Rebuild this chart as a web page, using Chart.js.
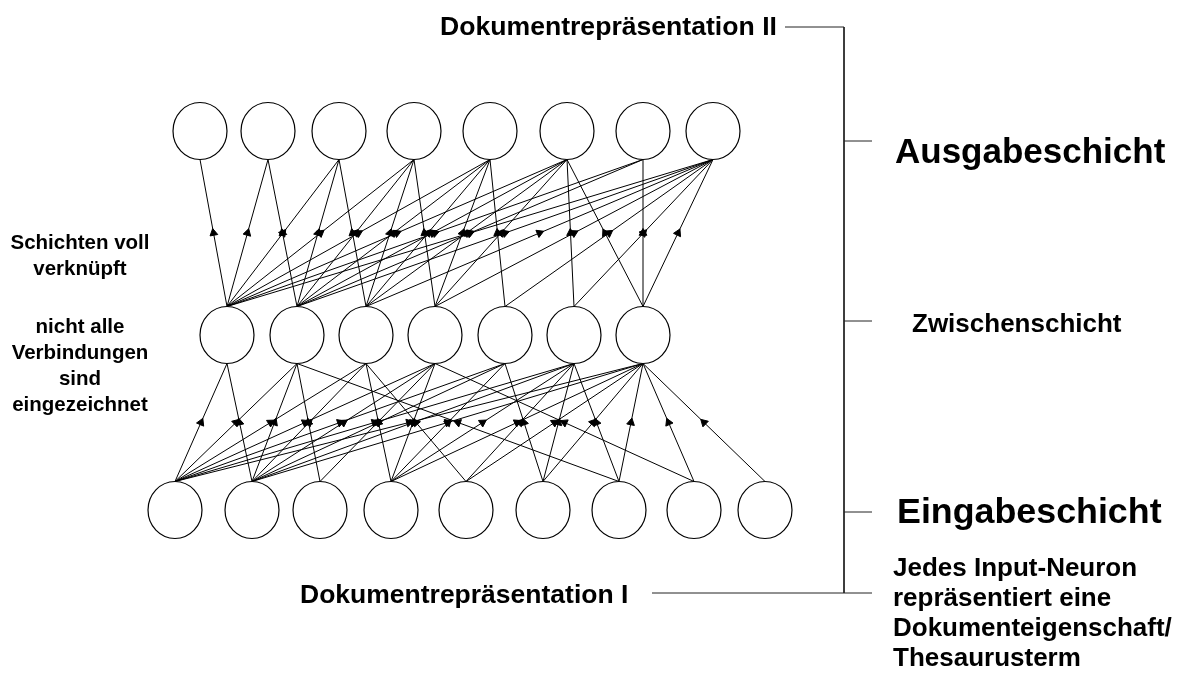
<!DOCTYPE html>
<html>
<head>
<meta charset="utf-8">
<script src="https://cdn.jsdelivr.net/npm/chart.js@4.4.1/dist/chart.umd.min.js"></script>
<style>
  html, body { margin: 0; padding: 0; background: #ffffff; }
  #wrap { width: 1189px; height: 682px; position: relative; }
</style>
</head>
<body>
<div id="wrap"><canvas id="c" width="1189" height="682"></canvas></div>
<script>
// ---- node positions per layer ----
const outputX = [200, 268, 339, 414, 490, 567, 643, 713];
const hiddenX = [227, 297, 366, 435, 505, 574, 643];
const inputX  = [175, 252, 320, 391, 466, 543, 619, 694, 765];
const outputY = 131;
const hiddenY = 335;
const inputY  = 510;
const nodeRX = 27;
const nodeRY = 28.5;

// ---- drawn connections ----
// upper: [hidden index, output index]
const upperEdges = [
  [0,0],
  [0,1],[1,1],
  [0,2],[1,2],[2,2],
  [0,3],[1,3],[2,3],[3,3],
  [0,4],[1,4],[2,4],[3,4],[4,4],
  [0,5],[1,5],[2,5],[3,5],[5,5],[6,5],
  [0,6],[1,6],[6,6],
  [0,7],[1,7],[2,7],[3,7],[4,7],[5,7],[6,7]
];
// lower: [input index, hidden index]
const lowerEdges = [
  [0,0],[0,1],[0,2],[0,3],[0,4],[0,5],[0,6],
  [1,0],[1,1],[1,2],[1,3],[1,4],[1,5],[1,6],
  [2,1],[2,3],
  [3,2],[3,3],[3,4],[3,5],[3,6],
  [4,2],[4,5],[4,6],
  [5,4],[5,5],[5,6],
  [6,1],[6,5],[6,6],
  [7,3],[7,6],
  [8,6]
];

// ---- texts ----
const leftNotes = ['Schichten voll', 'verknüpft', 'nicht alle', 'Verbindungen', 'sind', 'eingezeichnet'];
const leftNotesY = [249, 275, 333, 359, 385, 411];
const inputNote = ['Jedes Input-Neuron', 'repräsentiert eine', 'Dokumenteigenschaft/', 'Thesaurusterm'];
const inputNoteY = [576, 606, 636, 666];
const layerLabels = ['Ausgabeschicht', 'Zwischenschicht', 'Eingabeschicht'];
const docLabels = ['Dokumentrepräsentation II', 'Dokumentrepräsentation I'];

// ---- bracket ----
const bracketTop = 27, bracketBottom = 593, bracketX = 844;
const tickY = [141, 321, 512];

// ellipse point image for neurons
function makeNode() {
  const c = document.createElement('canvas');
  c.width = 58; c.height = 62;
  const g = c.getContext('2d');
  g.fillStyle = '#ffffff';
  g.strokeStyle = '#000000';
  g.lineWidth = 1.2;
  g.beginPath();
  g.ellipse(29, 31, nodeRX, nodeRY, 0, 0, Math.PI * 2);
  g.fill();
  g.stroke();
  return c;
}
const nodeImg = makeNode();

const datasets = [];

// neurons
const nodePts = [];
outputX.forEach(x => nodePts.push({x: x, y: outputY}));
hiddenX.forEach(x => nodePts.push({x: x, y: hiddenY}));
inputX.forEach(x => nodePts.push({x: x, y: inputY}));
datasets.push({
  type: 'scatter', data: nodePts, pointStyle: nodeImg, pointRadius: 29,
  order: 0, clip: false
});

// edges and arrowheads
const arrowPts = [];
function addEdge(x1, y1, x2, y2) {
  datasets.push({
    type: 'scatter', showLine: true,
    data: [{x: x1, y: y1}, {x: x2, y: y2}],
    borderColor: '#000000', borderWidth: 1, pointRadius: 0,
    order: 2, clip: false
  });
  arrowPts.push({x: (x1 + x2) / 2, y: (y1 + y2) / 2, x1: x1, y1: y1, x2: x2, y2: y2});
}
upperEdges.forEach(([h, o]) => addEdge(hiddenX[h], hiddenY - nodeRY, outputX[o], outputY + nodeRY));
lowerEdges.forEach(([i, h]) => addEdge(inputX[i], inputY - nodeRY, hiddenX[h], hiddenY + nodeRY));

datasets.push({
  type: 'scatter', data: arrowPts, pointStyle: 'triangle', pointRadius: 4.5,
  backgroundColor: '#000000', borderColor: '#000000', borderWidth: 1,
  rotation: (ctx) => {
    const r = ctx.raw;
    if (!r) return 0;
    const sx = ctx.chart.scales.x, sy = ctx.chart.scales.y;
    const dx = sx.getPixelForValue(r.x2) - sx.getPixelForValue(r.x1);
    const dy = sy.getPixelForValue(r.y2) - sy.getPixelForValue(r.y1);
    return Math.atan2(dx, -dy) * 180 / Math.PI;
  },
  order: 1, clip: false
});

// bracket lines
function addRule(pts) {
  datasets.push({
    type: 'scatter', showLine: true, data: pts,
    borderColor: '#222222', borderWidth: 1, pointRadius: 0, order: 3, clip: false
  });
}
addRule([{x: 785, y: bracketTop}, {x: bracketX, y: bracketTop}, {x: bracketX, y: bracketBottom}]);
tickY.forEach(t => addRule([{x: bracketX, y: t}, {x: 872, y: t}]));
addRule([{x: 652, y: bracketBottom}, {x: 872, y: bracketBottom}]);

const FONT = '"Liberation Sans", Arial, Helvetica, sans-serif';
const textPlugin = {
  id: 'labels',
  afterDatasetsDraw(chart) {
    const ctx = chart.ctx;
    const sx = chart.scales.x, sy = chart.scales.y;
    const X = v => sx.getPixelForValue(v), Y = v => sy.getPixelForValue(v);
    ctx.save();
    ctx.fillStyle = '#000000';
    ctx.textBaseline = 'alphabetic';
    function put(txt, x, y, size, align) {
      ctx.font = 'bold ' + size + 'px ' + FONT;
      ctx.textAlign = align;
      ctx.fillText(txt, X(x), Y(y));
    }
    put(docLabels[0], 440, 35, 26.6, 'left');
    put(docLabels[1], 300, 603, 26.5, 'left');
    put(layerLabels[0], 895, 163, 35, 'left');
    put(layerLabels[1], 912, 332, 26, 'left');
    put(layerLabels[2], 897, 523, 35.8, 'left');
    inputNote.forEach((t, i) => put(t, 893, inputNoteY[i], 26, 'left'));
    leftNotes.forEach((t, i) => put(t, 80, leftNotesY[i], 20.5, 'center'));
    ctx.restore();
  }
};

new Chart(document.getElementById('c'), {
  type: 'scatter',
  data: { datasets: datasets },
  options: {
    responsive: false,
    animation: false,
    devicePixelRatio: 1,
    layout: { padding: 0, autoPadding: false },
    events: [],
    plugins: { legend: { display: false }, tooltip: { enabled: false }, title: { display: false } },
    scales: {
      x: { type: 'linear', min: 0, max: 1189, display: false },
      y: { type: 'linear', min: 0, max: 682, reverse: true, display: false }
    }
  },
  plugins: [textPlugin]
});
</script>
</body>
</html>
